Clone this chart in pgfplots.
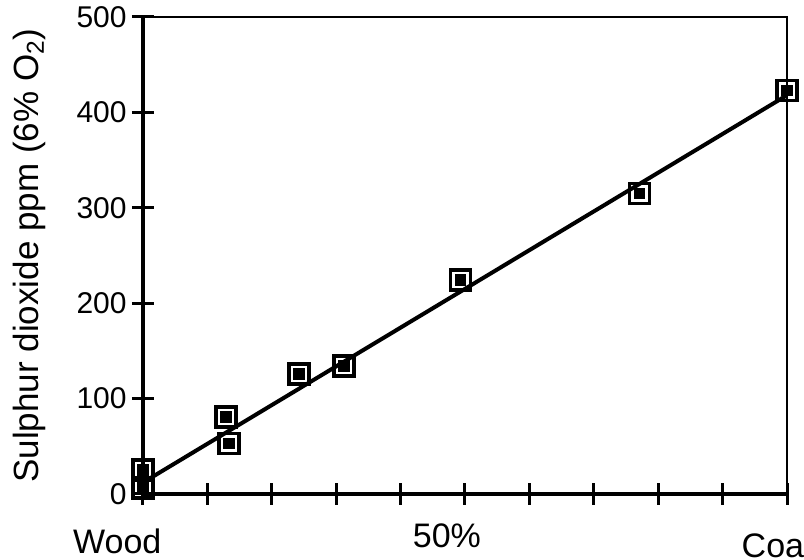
\documentclass[border=0pt]{standalone}
\usepackage{pgfplots}
\pgfplotsset{compat=1.18}
\usepackage{fontspec}
\setmainfont{Liberation Sans}
\begin{document}
\begin{tikzpicture}
\begin{axis}[
  scale only axis,
  width=322pt, height=238.5pt,
  xmin=0, xmax=100, ymin=0, ymax=500,
  axis lines*=left,
  axis line style={line width=1.7pt},
  xtick={0,10,...,100}, xticklabels={},
  ytick={0,100,...,500},
  tick align=center,
  major tick length=11pt,
  tick style={line width=1.5pt, black},
  /pgf/number format/assume math mode=true,
  yticklabel style={font=\fontsize{15}{17}\selectfont, inner sep=0pt, anchor=east, xshift=-2.5pt},
  ylabel={Sulphur dioxide ppm (6\% O\textsubscript{2})},
  ylabel style={font=\fontsize{17.5}{20}\selectfont, at={(axis description cs:-0.176,0.5)}, anchor=center},
  clip=false,
]
\draw[line width=1pt] (rel axis cs:0,1) -- (rel axis cs:1,1) -- (rel axis cs:1,0);
\addplot[line width=2pt, black] coordinates {(0,12) (100,418)};
\addplot[only marks, mark=square, mark size=5pt, mark options={line width=1.8pt, fill=white, draw=black}] coordinates {
 (0,25) (0,6) (12.9,81) (13.4,53) (24.2,126) (31.2,134) (49.3,224) (77.1,315) (100,423)};
\addplot[only marks, mark=square*, mark size=2.7pt, mark options={line width=0pt, fill=black, draw=black}] coordinates {
 (0,25) (0,6) (12.9,81) (13.4,53) (24.2,126) (31.2,134) (49.3,224) (77.1,315) (100,423)};
\node[font=\fontsize{17}{19}\selectfont, anchor=base, inner sep=0pt] at (axis cs:-4.0,-62) {Wood};
\node[font=\fontsize{17}{19}\selectfont, anchor=base, inner sep=0pt] at (axis cs:47.2,-55.6) {50\%};
\node[font=\fontsize{17}{19}\selectfont, anchor=base, inner sep=0pt] at (axis cs:98.4,-67) {Coal};
\end{axis}
\pgfresetboundingbox
\useasboundingbox (-71.5pt,-33pt) rectangle (330.5pt,247pt);
\end{tikzpicture}
\end{document}
